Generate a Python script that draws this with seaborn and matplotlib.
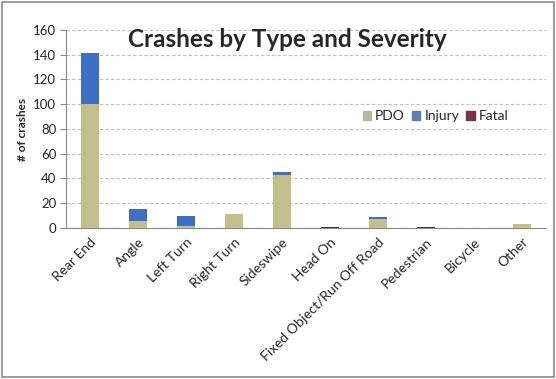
import pandas as pd
import matplotlib.pyplot as plt
import seaborn as sns
from matplotlib.patches import Rectangle, Patch

# Data
categories = ['Rear End', 'Angle', 'Left Turn', 'Right Turn', 'Sideswipe', 'Head On',
              'Fixed Object/Run Off Road', 'Pedestrian', 'Bicycle', 'Other']
pdo = [100, 6, 2, 11, 43, 0, 7, 0, 0, 3]
injury = [41, 9, 8, 0, 2, 0, 2, 0, 0, 0]
fatal = [0, 0, 0, 0, 0, 1, 0, 1, 0, 0]

df = pd.DataFrame({'type': categories, 'PDO': pdo, 'Injury': injury, 'Fatal': fatal})
df['top_injury'] = df['PDO'] + df['Injury']
df['top_fatal'] = df['top_injury'] + df['Fatal']

sns.set_style('white')
plt.rcParams['font.family'] = ['Lato', 'DejaVu Sans']

fig = plt.figure(figsize=(5.56, 3.79), dpi=100)
ax = fig.add_axes([0.1187, 0.3984, 0.8633, 0.5226])

c_pdo = '#c4bd8c'
c_inj = '#3f6fc4'
c_fat = '#5a2a36'

# stacked by overdrawing cumulative totals
for col, c in [('top_fatal', c_fat), ('top_injury', c_inj), ('PDO', c_pdo)]:
    sns.barplot(data=df, x='type', y=col, color=c, width=0.375, saturation=1,
                linewidth=0, zorder=3, ax=ax)

ax.set_ylim(0, 160)
ax.set_yticks(range(0, 161, 20))
ax.set_xlim(-0.5, len(categories) - 0.5)
ax.yaxis.grid(True, linestyle=(0, (3, 2)), color='#bfbfbf', linewidth=0.8)
ax.set_axisbelow(True)
for s in ['top', 'right']:
    ax.spines[s].set_visible(False)
ax.spines['left'].set_color('#888888')
ax.spines['bottom'].set_color('#888888')
ax.tick_params(axis='y', left=True, length=4, color='#888888', labelsize=9.5, pad=3)
ax.tick_params(axis='x', bottom=False, labelsize=10, pad=2)
ax.set_xticks(range(len(categories)))
ax.set_xticklabels(categories, rotation=45, ha='right', rotation_mode='anchor')
ax.set_xlabel('')
ax.set_ylabel('# of crashes', fontsize=8.5, fontweight='bold', labelpad=4)

ax.text(0.462, 0.95, 'Crashes by Type and Severity', transform=ax.transAxes,
        ha='center', va='center', fontsize=17.5, fontweight='bold')

handles = [Patch(color='#b8b8a8', label='PDO'), Patch(color='#5f7fae', label='Injury'),
           Patch(color='#7a3346', label='Fatal')]
ax.legend(handles=handles, loc='center', bbox_to_anchor=(0.77, 0.565), ncol=3, frameon=False,
          fontsize=10, handlelength=0.6, handleheight=0.6, handletextpad=0.3, columnspacing=0.5)

fig.patches.append(Rectangle((0.004, 0.006), 0.992, 0.988, transform=fig.transFigure,
                             fill=False, edgecolor='#8a8a8a', linewidth=1.2))

fig.savefig('out.png', dpi=100)
